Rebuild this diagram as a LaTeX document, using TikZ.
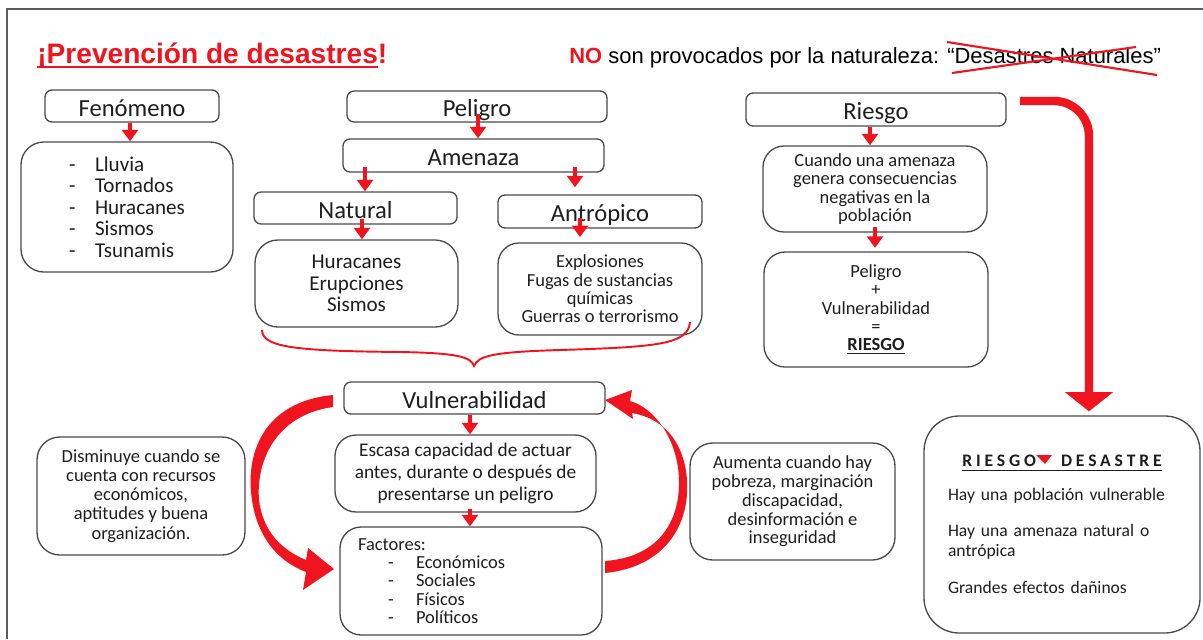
\documentclass[tikz,border=0pt]{standalone}
\usepackage{fontspec}
\setmainfont{Carlito}
\newfontfamily\arialf{Liberation Sans}
\usetikzlibrary{arrows.meta}
\definecolor{rd}{HTML}{F0141F}
\definecolor{bd}{HTML}{4A4A4A}
\definecolor{tx}{HTML}{1E1E1E}
\newcommand\myul[2][1.1pt]{\setbox0=\hbox{#2}\rlap{\rule[-2.6pt]{\wd0}{#1}}\box0}
\newcommand\bx[7][]{\node[box,#1,minimum width={(#5-#3)*0.02cm},minimum height={(#6-#4)*0.02cm}] (#2) at ({(#3+#5)/2},{(#4+#6)/2}) {#7};}
\newcommand\dl[1]{\makebox[0.52cm][l]{-}#1}
\begin{document}
\begin{tikzpicture}[x=0.02cm,y=-0.02cm,
  box/.style={draw=bd,line width=0.75pt,text=tx,align=center,inner sep=0pt},
  ttl/.style={font=\fontsize{14}{16}\selectfont,rounded corners=4pt,text height=13pt,text depth=1.5pt},
  lst/.style={font=\fontsize{12}{12.2}\selectfont,rounded corners=13pt},
  sml/.style={font=\fontsize{10.5}{10.4}\selectfont,rounded corners=12pt},
  sarr/.style={draw=rd,line width=2pt,-{Triangle[width=9pt,length=6.5pt]}},
  bigarr/.style={draw=rd,line width=4.8pt,-{Triangle[width=27pt,length=11pt]}},
]
\useasboundingbox (0,0) rectangle (1203,639);
% frame
\draw[draw=bd!90,line width=1.2pt] (7,639) -- (7,9) -- (1203,9);
% headings
\node[anchor=base west,inner sep=0pt,text=rd,font=\arialf\bfseries\fontsize{16}{18}\selectfont] (title) at (37,63) {\myul{¡Prevención de desastres}!};
\node[anchor=base west,inner sep=0pt,text=black,font=\arialf\fontsize{12.5}{14}\selectfont] (no) at (569,63) {\textcolor{rd}{\bfseries NO} son provocados por la naturaleza: “Desastres Naturales”};
\draw[rd,line width=1.2pt] (947,42) -- (1157,75);
\draw[rd,line width=1.2pt] (952,73) -- (1136,47);

% boxes
\bx[ttl]{fen}{45}{90}{219}{122}{Fenómeno}
\bx[lst,align=left]{fenl}{21}{142}{233}{272}{\dl{Lluvia}\\\dl{Tornados}\\\dl{Huracanes}\\\dl{Sismos}\\\dl{Tsunamis}}
\bx[ttl]{pel}{347}{91}{607}{122}{Peligro}
\bx[ttl]{ame}{343}{139}{604}{172}{Amenaza}
\bx[ttl]{nat}{254}{192}{457}{224}{Natural}
\bx[ttl]{ant}{498}{195}{702}{228}{Antrópico}
\bx[lst]{natl}{255}{240}{458}{327}{Huracanes\\Erupciones\\Sismos}
\bx[sml]{antl}{498}{243}{702}{335}{Explosiones\\Fugas de sustancias\\químicas\\Guerras o terrorismo}
\bx[ttl]{rie}{746}{93}{1006}{126}{Riesgo}
\bx[sml]{cua}{763}{146}{987}{232}{Cuando una amenaza\\genera consecuencias\\negativas en la\\población}
\bx[sml]{pv}{764}{252}{988}{367}{Peligro\\+\\Vulnerabilidad\\=\\\underline{\textbf{RIESGO}}}
\bx[ttl]{vul}{344}{382}{605}{414}{Vulnerabilidad}
\bx[font=\fontsize{11}{12.5}\selectfont,rounded corners=12pt]{esc}{335}{435}{596}{512}{Escasa capacidad de actuar\\antes, durante o después de\\presentarse un peligro}
\bx[sml,align=left,text width=4.52cm]{fac}{340}{527}{602}{635}{Factores:\\\hspace*{0.6cm}\makebox[0.56cm][l]{-}Económicos\\\hspace*{0.6cm}\makebox[0.56cm][l]{-}Sociales\\\hspace*{0.6cm}\makebox[0.56cm][l]{-}Físicos\\\hspace*{0.6cm}\makebox[0.56cm][l]{-}Políticos}
\bx[font=\fontsize{10.5}{10.9}\selectfont,rounded corners=13pt]{dis}{37}{437}{245}{555}{Disminuye cuando se\\cuenta con recursos\\económicos,\\aptitudes y buena\\organización.}
\bx[font=\fontsize{10.5}{10.7}\selectfont,rounded corners=13pt]{aum}{690}{443}{895}{560}{Aumenta cuando hay\\pobreza, marginación\\discapacidad,\\desinformación e\\inseguridad}
\bx[font=\fontsize{10}{11.3}\selectfont,rounded corners=20pt,align=left,text width=4.56cm]{dz}{924}{416}{1200}{633}{\makebox[4.56cm]{\myul[0.8pt]{\bfseries\addfontfeatures{LetterSpace=22}RIESGO\hspace{0.5cm}DESASTRE}}\\[8pt]Hay una población vulnerable\\[9pt]Hay una amenaza natural o\\antrópica\\[10pt]Grandes efectos dañinos}
\fill[rd] (1036,455) -- (1052,455) -- (1045,464) -- cycle;

% small arrows
\draw[sarr] (130,0 |- fen.south) -- (130,0 |- fenl.north);
\draw[sarr] ([yshift=5pt]478,0 |- pel.south) -- (478,0 |- ame.north);
\draw[sarr] ([yshift=3pt]365,0 |- ame.south) -- (365,0 |- nat.north);
\draw[sarr] ([yshift=3pt]575,0 |- ame.south) -- ([yshift=4pt]575,0 |- ant.north);
\draw[sarr] ([yshift=3pt]362,0 |- nat.south) -- (362,0 |- natl.north);
\draw[sarr] ([yshift=6pt]580,0 |- ant.south) -- ([yshift=3pt]580,0 |- antl.north);
\draw[sarr] (870,0 |- rie.south) -- (870,0 |- cua.north);
\draw[sarr] ([yshift=3pt]875,0 |- cua.south) -- ([yshift=2pt]875,0 |- pv.north);
\draw[sarr] (470,0 |- vul.south) -- (470,0 |- esc.north);
\draw[sarr] ([yshift=2pt]470,0 |- esc.south) -- (470,0 |- fac.north);

% big arrow riesgo -> desastre
\coordinate (bigstart) at (1020,101);
\draw[bigarr,rounded corners=0.7cm] (bigstart) -| ([xshift=0.54cm,yshift=0.08cm]dz.north);

% brace
\draw[rd,line width=1.1pt] (262,330) .. controls (262,348) and (300,351) .. (400,352) .. controls (458,353) and (471,357) .. (474,366) .. controls (478,356) and (492,352) .. (560,350) .. controls (660,347) and (688,344) .. (690,322);

% curved arrows
\fill[rd] (333,395) .. controls (262,402) and (245,455) .. (252,500) .. controls (258,540) and (280,562) .. (306,572) -- (303,590) -- (334,569) -- (308,548) -- (306,560) .. controls (282,550) and (263,532) .. (259,500) .. controls (256,462) and (275,415) .. (333,407) -- cycle;
\fill[rd] (605,573) .. controls (665,567) and (690,525) .. (687,480) .. controls (684,440) and (662,418) .. (632,413) -- (633,419) -- (605,400) -- (632,390) -- (630,401) .. controls (655,408) and (678,440) .. (679,480) .. controls (680,520) and (660,557) .. (605,561) -- cycle;
\end{tikzpicture}
\end{document}
